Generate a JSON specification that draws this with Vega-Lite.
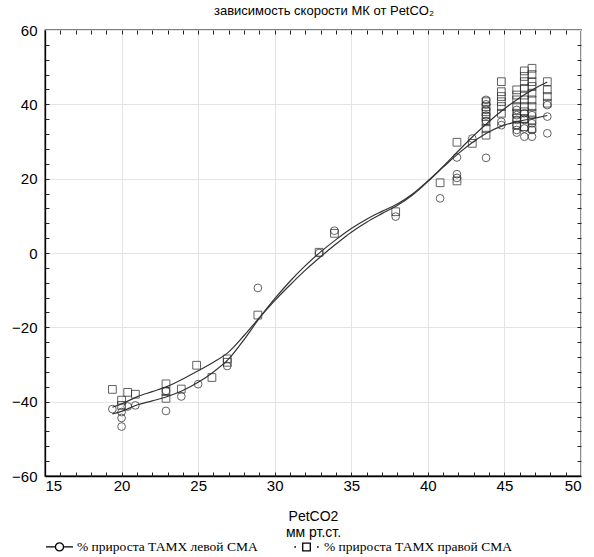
{
  "$schema": "https://vega.github.io/schema/vega-lite/v6.json",
  "width": 536,
  "height": 446,
  "autosize": {"type": "none"},
  "padding": {"left": 45, "top": 30, "right": 13, "bottom": 81},
  "title": {"text": "зависимость скорости МК от PetCO₂", "font": "Liberation Sans", "fontSize": 13, "fontWeight": "normal", "color": "black", "offset": 5, "dx": 11, "anchor": "middle"},
  "config": {
    "view": {"stroke": "black", "strokeWidth": 1.3},
    "axis": {"labelFont": "Liberation Sans", "labelColor": "black", "titleFont": "Liberation Sans", "titleColor": "black", "tickColor": "#222", "domainColor": "black", "gridColor": "#e4e4e4"},
    "legend": {"labelFont": "Liberation Serif", "labelColor": "black"}
  },
  "datasets": {
    "pts": [
      {"x": 19.4, "y": -42.0, "s": "% прироста ТАМХ левой СМА"},
      {"x": 20.0, "y": -42.8, "s": "% прироста ТАМХ левой СМА"},
      {"x": 20.0, "y": -44.4, "s": "% прироста ТАМХ левой СМА"},
      {"x": 20.0, "y": -46.7, "s": "% прироста ТАМХ левой СМА"},
      {"x": 20.4, "y": -41.3, "s": "% прироста ТАМХ левой СМА"},
      {"x": 20.9, "y": -41.0, "s": "% прироста ТАМХ левой СМА"},
      {"x": 22.9, "y": -42.5, "s": "% прироста ТАМХ левой СМА"},
      {"x": 22.9, "y": -37.1, "s": "% прироста ТАМХ левой СМА"},
      {"x": 23.9, "y": -38.6, "s": "% прироста ТАМХ левой СМА"},
      {"x": 25.0, "y": -35.3, "s": "% прироста ТАМХ левой СМА"},
      {"x": 26.9, "y": -30.4, "s": "% прироста ТАМХ левой СМА"},
      {"x": 28.9, "y": -9.4, "s": "% прироста ТАМХ левой СМА"},
      {"x": 32.9, "y": 0.0, "s": "% прироста ТАМХ левой СМА"},
      {"x": 33.9, "y": 6.0, "s": "% прироста ТАМХ левой СМА"},
      {"x": 37.9, "y": 9.8, "s": "% прироста ТАМХ левой СМА"},
      {"x": 40.8, "y": 14.7, "s": "% прироста ТАМХ левой СМА"},
      {"x": 41.9, "y": 25.7, "s": "% прироста ТАМХ левой СМА"},
      {"x": 41.9, "y": 21.2, "s": "% прироста ТАМХ левой СМА"},
      {"x": 41.9, "y": 20.2, "s": "% прироста ТАМХ левой СМА"},
      {"x": 42.9, "y": 30.8, "s": "% прироста ТАМХ левой СМА"},
      {"x": 43.8, "y": 41.2, "s": "% прироста ТАМХ левой СМА"},
      {"x": 43.8, "y": 40.0, "s": "% прироста ТАМХ левой СМА"},
      {"x": 43.8, "y": 38.5, "s": "% прироста ТАМХ левой СМА"},
      {"x": 43.8, "y": 37.0, "s": "% прироста ТАМХ левой СМА"},
      {"x": 43.8, "y": 35.5, "s": "% прироста ТАМХ левой СМА"},
      {"x": 43.8, "y": 25.6, "s": "% прироста ТАМХ левой СМА"},
      {"x": 44.8, "y": 35.3, "s": "% прироста ТАМХ левой СМА"},
      {"x": 44.8, "y": 34.4, "s": "% прироста ТАМХ левой СМА"},
      {"x": 45.8, "y": 38.5, "s": "% прироста ТАМХ левой СМА"},
      {"x": 45.8, "y": 37.1, "s": "% прироста ТАМХ левой СМА"},
      {"x": 45.8, "y": 35.8, "s": "% прироста ТАМХ левой СМА"},
      {"x": 45.8, "y": 34.4, "s": "% прироста ТАМХ левой СМА"},
      {"x": 45.8, "y": 33.1, "s": "% прироста ТАМХ левой СМА"},
      {"x": 45.8, "y": 32.4, "s": "% прироста ТАМХ левой СМА"},
      {"x": 46.3, "y": 37.6, "s": "% прироста ТАМХ левой СМА"},
      {"x": 46.3, "y": 35.8, "s": "% прироста ТАМХ левой СМА"},
      {"x": 46.3, "y": 33.5, "s": "% прироста ТАМХ левой СМА"},
      {"x": 46.3, "y": 31.3, "s": "% прироста ТАМХ левой СМА"},
      {"x": 46.8, "y": 37.1, "s": "% прироста ТАМХ левой СМА"},
      {"x": 46.8, "y": 34.9, "s": "% прироста ТАМХ левой СМА"},
      {"x": 46.8, "y": 33.1, "s": "% прироста ТАМХ левой СМА"},
      {"x": 46.8, "y": 31.3, "s": "% прироста ТАМХ левой СМА"},
      {"x": 47.8, "y": 39.8, "s": "% прироста ТАМХ левой СМА"},
      {"x": 47.8, "y": 36.7, "s": "% прироста ТАМХ левой СМА"},
      {"x": 47.8, "y": 32.2, "s": "% прироста ТАМХ левой СМА"},
      {"x": 19.4, "y": -36.7, "s": "% прироста ТАМХ правой СМА"},
      {"x": 20.4, "y": -37.5, "s": "% прироста ТАМХ правой СМА"},
      {"x": 20.9, "y": -38.0, "s": "% прироста ТАМХ правой СМА"},
      {"x": 20.0, "y": -39.6, "s": "% прироста ТАМХ правой СМА"},
      {"x": 20.0, "y": -41.0, "s": "% прироста ТАМХ правой СМА"},
      {"x": 22.9, "y": -35.2, "s": "% прироста ТАМХ правой СМА"},
      {"x": 22.9, "y": -37.3, "s": "% прироста ТАМХ правой СМА"},
      {"x": 22.9, "y": -39.1, "s": "% прироста ТАМХ правой СМА"},
      {"x": 23.9, "y": -36.6, "s": "% прироста ТАМХ правой СМА"},
      {"x": 24.9, "y": -30.2, "s": "% прироста ТАМХ правой СМА"},
      {"x": 25.9, "y": -33.5, "s": "% прироста ТАМХ правой СМА"},
      {"x": 26.9, "y": -28.5, "s": "% прироста ТАМХ правой СМА"},
      {"x": 26.9, "y": -29.4, "s": "% прироста ТАМХ правой СМА"},
      {"x": 28.9, "y": -16.7, "s": "% прироста ТАМХ правой СМА"},
      {"x": 32.9, "y": 0.2, "s": "% прироста ТАМХ правой СМА"},
      {"x": 33.9, "y": 5.3, "s": "% прироста ТАМХ правой СМА"},
      {"x": 37.9, "y": 11.1, "s": "% прироста ТАМХ правой СМА"},
      {"x": 40.8, "y": 18.9, "s": "% прироста ТАМХ правой СМА"},
      {"x": 41.9, "y": 29.8, "s": "% прироста ТАМХ правой СМА"},
      {"x": 41.9, "y": 19.4, "s": "% прироста ТАМХ правой СМА"},
      {"x": 42.9, "y": 29.5, "s": "% прироста ТАМХ правой СМА"},
      {"x": 43.8, "y": 40.7, "s": "% прироста ТАМХ правой СМА"},
      {"x": 43.8, "y": 39.4, "s": "% прироста ТАМХ правой СМА"},
      {"x": 43.8, "y": 38.0, "s": "% прироста ТАМХ правой СМА"},
      {"x": 43.8, "y": 36.7, "s": "% прироста ТАМХ правой СМА"},
      {"x": 43.8, "y": 35.3, "s": "% прироста ТАМХ правой СМА"},
      {"x": 43.8, "y": 33.5, "s": "% прироста ТАМХ правой СМА"},
      {"x": 43.8, "y": 31.7, "s": "% прироста ТАМХ правой СМА"},
      {"x": 44.8, "y": 46.1, "s": "% прироста ТАМХ правой СМА"},
      {"x": 44.8, "y": 43.4, "s": "% прироста ТАМХ правой СМА"},
      {"x": 44.8, "y": 42.1, "s": "% прироста ТАМХ правой СМА"},
      {"x": 44.8, "y": 40.7, "s": "% прироста ТАМХ правой СМА"},
      {"x": 44.8, "y": 39.4, "s": "% прироста ТАМХ правой СМА"},
      {"x": 44.8, "y": 37.6, "s": "% прироста ТАМХ правой СМА"},
      {"x": 45.8, "y": 43.9, "s": "% прироста ТАМХ правой СМА"},
      {"x": 45.8, "y": 42.5, "s": "% прироста ТАМХ правой СМА"},
      {"x": 45.8, "y": 41.2, "s": "% прироста ТАМХ правой СМА"},
      {"x": 45.8, "y": 39.4, "s": "% прироста ТАМХ правой СМА"},
      {"x": 45.8, "y": 37.6, "s": "% прироста ТАМХ правой СМА"},
      {"x": 45.8, "y": 36.2, "s": "% прироста ТАМХ правой СМА"},
      {"x": 45.8, "y": 34.4, "s": "% прироста ТАМХ правой СМА"},
      {"x": 46.3, "y": 49.0, "s": "% прироста ТАМХ правой СМА"},
      {"x": 46.3, "y": 47.5, "s": "% прироста ТАМХ правой СМА"},
      {"x": 46.3, "y": 46.1, "s": "% прироста ТАМХ правой СМА"},
      {"x": 46.3, "y": 44.3, "s": "% прироста ТАМХ правой СМА"},
      {"x": 46.3, "y": 42.5, "s": "% прироста ТАМХ правой СМА"},
      {"x": 46.3, "y": 41.2, "s": "% прироста ТАМХ правой СМА"},
      {"x": 46.3, "y": 39.4, "s": "% прироста ТАМХ правой СМА"},
      {"x": 46.3, "y": 38.0, "s": "% прироста ТАМХ правой СМА"},
      {"x": 46.3, "y": 36.2, "s": "% прироста ТАМХ правой СМА"},
      {"x": 46.3, "y": 34.0, "s": "% прироста ТАМХ правой СМА"},
      {"x": 46.8, "y": 49.7, "s": "% прироста ТАМХ правой СМА"},
      {"x": 46.8, "y": 48.0, "s": "% прироста ТАМХ правой СМА"},
      {"x": 46.8, "y": 46.1, "s": "% прироста ТАМХ правой СМА"},
      {"x": 46.8, "y": 44.8, "s": "% прироста ТАМХ правой СМА"},
      {"x": 46.8, "y": 43.0, "s": "% прироста ТАМХ правой СМА"},
      {"x": 46.8, "y": 41.2, "s": "% прироста ТАМХ правой СМА"},
      {"x": 46.8, "y": 39.4, "s": "% прироста ТАМХ правой СМА"},
      {"x": 46.8, "y": 37.6, "s": "% прироста ТАМХ правой СМА"},
      {"x": 46.8, "y": 35.8, "s": "% прироста ТАМХ правой СМА"},
      {"x": 46.8, "y": 33.5, "s": "% прироста ТАМХ правой СМА"},
      {"x": 47.8, "y": 46.1, "s": "% прироста ТАМХ правой СМА"},
      {"x": 47.8, "y": 43.9, "s": "% прироста ТАМХ правой СМА"},
      {"x": 47.8, "y": 42.1, "s": "% прироста ТАМХ правой СМА"},
      {"x": 47.8, "y": 40.3, "s": "% прироста ТАМХ правой СМА"}
    ],
    "fit": [
      {"x": 19.4, "y": -43.3, "s": "% прироста ТАМХ левой СМА"},
      {"x": 20, "y": -42.6, "s": "% прироста ТАМХ левой СМА"},
      {"x": 21, "y": -40.9, "s": "% прироста ТАМХ левой СМА"},
      {"x": 22, "y": -39.8, "s": "% прироста ТАМХ левой СМА"},
      {"x": 23, "y": -38.6, "s": "% прироста ТАМХ левой СМА"},
      {"x": 24, "y": -37.0, "s": "% прироста ТАМХ левой СМА"},
      {"x": 25, "y": -34.8, "s": "% прироста ТАМХ левой СМА"},
      {"x": 26, "y": -32.0, "s": "% прироста ТАМХ левой СМА"},
      {"x": 27, "y": -28.5, "s": "% прироста ТАМХ левой СМА"},
      {"x": 28, "y": -23.3, "s": "% прироста ТАМХ левой СМА"},
      {"x": 29, "y": -17.5, "s": "% прироста ТАМХ левой СМА"},
      {"x": 30, "y": -12.3, "s": "% прироста ТАМХ левой СМА"},
      {"x": 31, "y": -7.6, "s": "% прироста ТАМХ левой СМА"},
      {"x": 32, "y": -3.4, "s": "% прироста ТАМХ левой СМА"},
      {"x": 33, "y": 0.3, "s": "% прироста ТАМХ левой СМА"},
      {"x": 34, "y": 3.6, "s": "% прироста ТАМХ левой СМА"},
      {"x": 35, "y": 6.6, "s": "% прироста ТАМХ левой СМА"},
      {"x": 36, "y": 9.1, "s": "% прироста ТАМХ левой СМА"},
      {"x": 37, "y": 11.2, "s": "% прироста ТАМХ левой СМА"},
      {"x": 38, "y": 13.2, "s": "% прироста ТАМХ левой СМА"},
      {"x": 39, "y": 15.9, "s": "% прироста ТАМХ левой СМА"},
      {"x": 40, "y": 19.4, "s": "% прироста ТАМХ левой СМА"},
      {"x": 41, "y": 23.1, "s": "% прироста ТАМХ левой СМА"},
      {"x": 42, "y": 26.8, "s": "% прироста ТАМХ левой СМА"},
      {"x": 43, "y": 30.0, "s": "% прироста ТАМХ левой СМА"},
      {"x": 44, "y": 32.6, "s": "% прироста ТАМХ левой СМА"},
      {"x": 45, "y": 34.4, "s": "% прироста ТАМХ левой СМА"},
      {"x": 46, "y": 35.5, "s": "% прироста ТАМХ левой СМА"},
      {"x": 47, "y": 36.3, "s": "% прироста ТАМХ левой СМА"},
      {"x": 47.8, "y": 37.0, "s": "% прироста ТАМХ левой СМА"},
      {"x": 19.4, "y": -41.5, "s": "% прироста ТАМХ правой СМА"},
      {"x": 20, "y": -40.6, "s": "% прироста ТАМХ правой СМА"},
      {"x": 21, "y": -38.7, "s": "% прироста ТАМХ правой СМА"},
      {"x": 22, "y": -37.3, "s": "% прироста ТАМХ правой СМА"},
      {"x": 23, "y": -35.9, "s": "% прироста ТАМХ правой СМА"},
      {"x": 24, "y": -33.9, "s": "% прироста ТАМХ правой СМА"},
      {"x": 25, "y": -31.7, "s": "% прироста ТАМХ правой СМА"},
      {"x": 26, "y": -29.4, "s": "% прироста ТАМХ правой СМА"},
      {"x": 27, "y": -26.6, "s": "% прироста ТАМХ правой СМА"},
      {"x": 28, "y": -22.2, "s": "% прироста ТАМХ правой СМА"},
      {"x": 29, "y": -17.4, "s": "% прироста ТАМХ правой СМА"},
      {"x": 30, "y": -12.8, "s": "% прироста ТАМХ правой СМА"},
      {"x": 31, "y": -8.6, "s": "% прироста ТАМХ правой СМА"},
      {"x": 32, "y": -4.6, "s": "% прироста ТАМХ правой СМА"},
      {"x": 33, "y": -1.0, "s": "% прироста ТАМХ правой СМА"},
      {"x": 34, "y": 2.4, "s": "% прироста ТАМХ правой СМА"},
      {"x": 35, "y": 5.6, "s": "% прироста ТАМХ правой СМА"},
      {"x": 36, "y": 8.3, "s": "% прироста ТАМХ правой СМА"},
      {"x": 37, "y": 10.6, "s": "% прироста ТАМХ правой СМА"},
      {"x": 38, "y": 12.8, "s": "% прироста ТАМХ правой СМА"},
      {"x": 39, "y": 15.6, "s": "% прироста ТАМХ правой СМА"},
      {"x": 40, "y": 19.2, "s": "% прироста ТАМХ правой СМА"},
      {"x": 41, "y": 23.3, "s": "% прироста ТАМХ правой СМА"},
      {"x": 42, "y": 27.5, "s": "% прироста ТАМХ правой СМА"},
      {"x": 43, "y": 31.6, "s": "% прироста ТАМХ правой СМА"},
      {"x": 44, "y": 35.4, "s": "% прироста ТАМХ правой СМА"},
      {"x": 45, "y": 38.8, "s": "% прироста ТАМХ правой СМА"},
      {"x": 46, "y": 41.8, "s": "% прироста ТАМХ правой СМА"},
      {"x": 47, "y": 44.3, "s": "% прироста ТАМХ правой СМА"},
      {"x": 47.8, "y": 46.0, "s": "% прироста ТАМХ правой СМА"}
    ]
  },
  "layer": [
    {
      "data": {"name": "pts"},
      "mark": {"type": "point", "filled": false, "size": 60, "strokeWidth": 1, "color": "#222"},
      "encoding": {
        "x": {"field": "x", "type": "quantitative", "scale": {"domain": [15, 50], "nice": false, "zero": false},
          "axis": {"orient": "bottom", "values": [15, 20, 25, 30, 35, 40, 45, 50], "grid": true, "ticks": false, "domain": true, "domainWidth": 1.3, "labelFontSize": 15, "labelPadding": 2, "title": ["PetCO2", "мм рт.ст."], "titleFontSize": 14, "titleFontWeight": "normal", "titlePadding": 16, "titleLineHeight": 16}},
        "y": {"field": "y", "type": "quantitative", "scale": {"domain": [-60, 60], "nice": false, "zero": false},
          "axis": {"orient": "left", "values": [-60, -40, -20, 0, 20, 40, 60], "grid": true, "ticks": false, "domain": true, "domainWidth": 1.3, "labelFontSize": 15, "labelPadding": 8, "title": null}},
        "shape": {"field": "s", "type": "nominal", "scale": {"domain": ["% прироста ТАМХ левой СМА", "% прироста ТАМХ правой СМА"], "range": ["circle", "square"]}, "legend": null}
      }
    },
    {
      "data": {"name": "fit"},
      "mark": {"type": "line", "interpolate": "monotone", "color": "#333", "strokeWidth": 1.2},
      "encoding": {
        "x": {"field": "x", "type": "quantitative",
          "axis": {"orient": "bottom", "values": [16, 17, 18, 19, 20, 21, 22, 23, 24, 25, 26, 27, 28, 29, 30, 31, 32, 33, 34, 35, 36, 37, 38, 39, 40, 41, 42, 43, 44, 45, 46, 47, 48, 49], "labels": false, "ticks": true, "tickSize": -4, "grid": false, "domain": false, "title": null}},
        "y": {"field": "y", "type": "quantitative",
          "axis": {"orient": "left", "values": [-56, -52, -48, -44, -40, -36, -32, -28, -24, -20, -16, -12, -8, -4, 0, 4, 8, 12, 16, 20, 24, 28, 32, 36, 40, 44, 48, 52, 56], "labels": false, "ticks": true, "tickSize": -4, "grid": false, "domain": false, "title": null}},
        "detail": {"field": "s", "type": "nominal"}
      }
    },
    {
      "data": {"name": "fit"},
      "mark": {"type": "point", "opacity": 0},
      "encoding": {
        "x": {"field": "x", "type": "quantitative",
          "axis": {"orient": "top", "values": [16, 17, 18, 19, 20, 21, 22, 23, 24, 25, 26, 27, 28, 29, 30, 31, 32, 33, 34, 35, 36, 37, 38, 39, 40, 41, 42, 43, 44, 45, 46, 47, 48, 49], "labels": false, "ticks": true, "tickSize": -4, "grid": false, "domain": false, "title": null}},
        "y": {"field": "y", "type": "quantitative",
          "axis": {"orient": "right", "values": [-56, -52, -48, -44, -40, -36, -32, -28, -24, -20, -16, -12, -8, -4, 0, 4, 8, 12, 16, 20, 24, 28, 32, 36, 40, 44, 48, 52, 56], "labels": false, "ticks": true, "tickSize": -4, "grid": false, "domain": false, "title": null}},
        "shape": {"field": "s", "type": "nominal",
          "scale": {"domain": ["% прироста ТАМХ левой СМА", "% прироста ТАМХ правой СМА"], "range": ["M-1,0 L-0.3,0 M0.3,0 L1,0 M-0.3,0 A0.3,0.3 0 1 0 0.3,0 A0.3,0.3 0 1 0 -0.3,0", "M-0.9,0 L-0.78,0 M0.78,0 L0.9,0 M-0.28,-0.28 L0.28,-0.28 L0.28,0.28 L-0.28,0.28 Z"]},
          "legend": {"orient": "bottom", "direction": "horizontal", "columns": 2, "columnPadding": 33, "title": null, "labelFontSize": 13.5, "labelLimit": 0, "labelOffset": 3, "symbolSize": 729, "symbolOpacity": 1, "symbolStrokeColor": "black", "symbolFillColor": "white", "symbolStrokeWidth": 1.3, "offset": -7}}
      }
    }
  ],
  "resolve": {"axis": {"x": "independent", "y": "independent"}, "scale": {"shape": "independent"}, "legend": {"shape": "independent"}}
}
